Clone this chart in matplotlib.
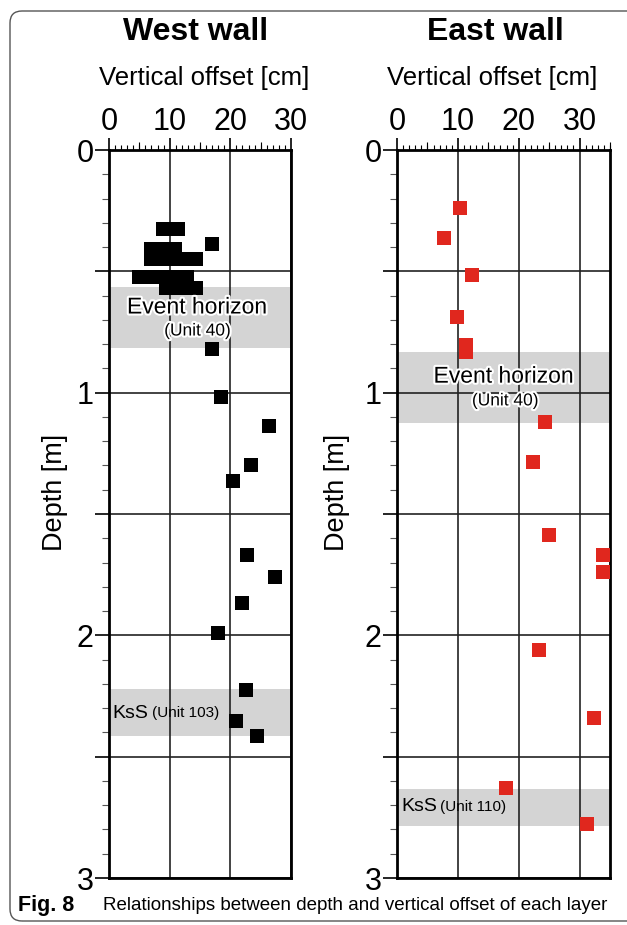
import matplotlib
matplotlib.use("Agg")
import matplotlib.pyplot as plt
import matplotlib.patheffects as pe
from matplotlib.patches import FancyBboxPatch
from matplotlib.ticker import MultipleLocator, FuncFormatter

plt.rcParams['font.family'] = ['Liberation Sans', 'DejaVu Sans']

# west wall: vertical offset [cm] vs depth [m]
west_offset = [8.9, 10.2, 11.4, 16.9,
               6.9, 8.6, 10.8,
               6.9, 9.0, 11.0, 13.2, 14.3,
               5.0, 7.0, 9.0, 11.0, 12.9,
               9.4, 11.4, 13.3, 14.3,
               16.9, 18.4, 26.4, 23.4, 20.4, 22.8, 27.4, 22.0, 17.9, 22.5, 20.9, 24.4]
west_depth = [0.324, 0.324, 0.324, 0.387,
              0.409, 0.409, 0.409,
              0.448, 0.448, 0.448, 0.448, 0.448,
              0.523, 0.523, 0.523, 0.523, 0.523,
              0.567, 0.567, 0.567, 0.567,
              0.818, 1.019, 1.139, 1.300, 1.362, 1.670, 1.759, 1.865, 1.991, 2.224, 2.353, 2.415]

# east wall
east_offset = [10.4, 7.8, 12.4, 9.9, 11.4, 11.4, 24.4, 22.4, 24.9, 33.9, 33.9, 23.4, 32.3, 17.9, 31.3]
east_depth = [0.241, 0.361, 0.517, 0.687, 0.802, 0.831, 1.121, 1.287, 1.587, 1.667, 1.738, 2.062, 2.342, 2.628, 2.776]

# marker layers (depth ranges in m)
west_bands = [(0.565, 0.815), (2.22, 2.413)]
east_bands = [(0.833, 1.124), (2.633, 2.784)]

W, H = 627, 925
fig = plt.figure(figsize=(W / 100, H / 100), dpi=100)

halo = [pe.withStroke(linewidth=3, foreground='white')]


def panel(left_px, right_px, offset, depth, color, xmax, title, title_x, lab_x, bands, ylab_x):
    ax = fig.add_axes([left_px / W, 1 - 878 / H, (right_px - left_px) / W, 728 / H])
    for b0, b1 in bands:
        ax.axhspan(b0, b1, color='#d4d4d4', lw=0, zorder=0.5)
    ax.scatter(offset, depth, marker='s', s=88, c=color, lw=0, zorder=3, clip_on=False)
    ax.set_xlim(0, xmax)
    ax.set_ylim(3, 0)
    ax.xaxis.tick_top()
    ax.xaxis.set_major_locator(MultipleLocator(10))
    ax.xaxis.set_minor_locator(MultipleLocator(1))
    ax.yaxis.set_major_locator(MultipleLocator(0.5))
    ax.yaxis.set_minor_locator(MultipleLocator(0.1))
    ax.yaxis.set_major_formatter(FuncFormatter(lambda v, p: f'{v:.0f}' if abs(v - round(v)) < 1e-6 else ''))
    ax.tick_params(axis='x', which='major', length=9, width=1.2, labelsize=22, pad=0)
    ax.tick_params(axis='x', which='minor', length=3.5, width=0.8)
    ax.tick_params(axis='y', which='major', length=10, width=1.2, labelsize=22, pad=1)
    ax.tick_params(axis='y', which='minor', length=5, width=0.8, color='#555')
    ax.grid(True, which='major', color='#222', lw=1.2, zorder=1)
    for s in ax.spines.values():
        s.set_linewidth(2)
    ax.set_axisbelow(True)

    ax.set_title(title, fontsize=23, fontweight='bold', x=title_x, y=1 + 110 / 728, va='center')
    ax.set_xlabel('Vertical offset [cm]', fontsize=18.5)
    ax.xaxis.set_label_position('top')
    ax.xaxis.set_label_coords(lab_x, 1 + 72 / 728)
    ax.xaxis.label.set_va('center')
    ax.set_ylabel('Depth [m]', fontsize=19.5)
    ax.yaxis.set_label_coords(ylab_x, 0.53)
    return ax


axw = panel(109, 291, west_offset, west_depth, 'black', 30, 'West wall', 0.478, 0.522, west_bands, -0.227)
axe = panel(397, 610, east_offset, east_depth, '#e0271e', 35, 'East wall', 0.46, 0.448, east_bands, -0.22)

# mid ticks at 5 cm steps
for ax, xmax in [(axw, 30), (axe, 35)]:
    sec = ax.secondary_xaxis('top')
    sec.set_xticks([v for v in range(5, int(xmax) + 1, 10)])
    sec.tick_params(length=5.5, width=0.8, labeltop=False)
    sec.spines['top'].set_visible(False)

axw.text(14.5, 0.647, 'Event horizon', fontsize=16.5, ha='center', va='center', path_effects=halo, zorder=4)
axw.text(14.6, 0.746, '(Unit 40)', fontsize=12.5, ha='center', va='center', path_effects=halo, zorder=4)
axw.text(0.6, 2.321, 'KsS', fontsize=14, ha='left', va='center', zorder=4)
axw.text(7.1, 2.321, '(Unit 103)', fontsize=11, ha='left', va='center', zorder=4)

axe.text(17.5, 0.932, 'Event horizon', fontsize=16.5, ha='center', va='center', path_effects=halo, zorder=4)
axe.text(17.8, 1.034, '(Unit 40)', fontsize=12.5, ha='center', va='center', path_effects=halo, zorder=4)
axe.text(0.66, 2.706, 'KsS', fontsize=14, ha='left', va='center', zorder=4)
axe.text(7.1, 2.706, '(Unit 110)', fontsize=11, ha='left', va='center', zorder=4)

# rounded outer frame
frame = FancyBboxPatch((0.10, 0.04), 7.0, 9.10, boxstyle='round,pad=0,rounding_size=0.12',
                       transform=fig.dpi_scale_trans, fill=False, ec='#555', lw=1.0)
fig.patches.append(frame)

fig.text(18 / W, 1 - 905 / H, 'Fig. 8', fontsize=15.5, fontweight='bold', va='center')
fig.text(103 / W, 1 - 905 / H, 'Relationships between depth and vertical offset of each layer',
         fontsize=13.5, va='center')

fig.savefig('out.png', dpi=100)
